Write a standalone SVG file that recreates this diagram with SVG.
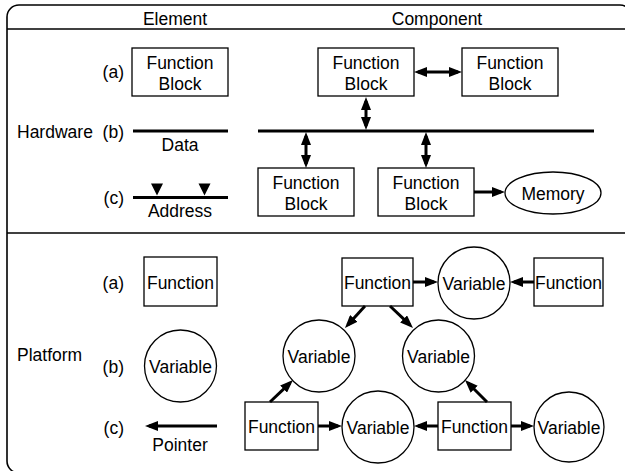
<svg xmlns="http://www.w3.org/2000/svg" width="625" height="471" viewBox="0 0 625 471">
  <style>
    text { font-family: "Liberation Sans", Arial, sans-serif; font-size: 17.5px; fill: #000; }
    .c { text-anchor: middle; }
    .r { text-anchor: end; }
    .node { fill: #fff; stroke: #000; stroke-width: 1.3; }
    .frame { fill: none; stroke: #000; stroke-width: 1.6; }
    .bus { stroke: #000; stroke-width: 3; fill: none; }
    .conn { stroke: #000; stroke-width: 3; fill: none; }
    .arr { marker-end: url(#ah); }
    .dbl { marker-start: url(#ah); marker-end: url(#ah); }
  </style>
  <defs>
    <marker id="ah" viewBox="0 0 13 10" refX="9" refY="5" markerWidth="13" markerHeight="10" markerUnits="userSpaceOnUse" orient="auto-start-reverse">
      <path d="M0,0 L13,5 L0,10 z" fill="#000"/>
    </marker>
    <path id="tick" d="M-6,0 L6,0 L0,12 z" fill="#000"/>
  </defs>

  <rect width="625" height="471" fill="#fff"/>

  <!-- table frame, column header and section divider -->
  <g id="frame">
    <rect class="frame" x="7" y="5" width="625" height="468" rx="12" ry="12"/>
    <line class="frame" x1="7" y1="29" x2="625" y2="29"/>
    <line class="frame" x1="7" y1="233" x2="625" y2="233"/>
    <text class="c" x="175" y="25">Element</text>
    <text class="c" x="437" y="25">Component</text>
  </g>

  <!-- row labels -->
  <g id="labels">
    <text x="17" y="138">Hardware</text>
    <text x="17" y="361">Platform</text>
    <text class="r" x="124" y="78">(a)</text>
    <text class="r" x="124" y="138">(b)</text>
    <text class="r" x="124" y="204">(c)</text>
    <text class="r" x="124" y="289">(a)</text>
    <text class="r" x="124" y="373">(b)</text>
    <text class="r" x="124" y="434">(c)</text>
  </g>

  <!-- hardware elements -->
  <g id="hw-elem-block">
    <rect class="node" x="132" y="48" width="96" height="48"/>
    <text class="c" x="180" y="69">Function</text>
    <text class="c" x="180" y="89.5">Block</text>
  </g>
  <g id="hw-elem-data">
    <line class="bus" x1="133" y1="131" x2="228" y2="131"/>
    <text class="c" x="180" y="151">Data</text>
  </g>
  <g id="hw-elem-address">
    <line class="bus" x1="133" y1="197.5" x2="228" y2="197.5"/>
    <use href="#tick" x="157" y="183.5"/>
    <use href="#tick" x="204.5" y="183.5"/>
    <text class="c" x="180" y="216.5">Address</text>
  </g>

  <!-- hardware component -->
  <g id="hw-fb1">
    <rect class="node" x="318" y="48" width="96" height="48"/>
    <text class="c" x="366" y="69">Function</text>
    <text class="c" x="366" y="89.5">Block</text>
  </g>
  <g id="hw-fb2">
    <rect class="node" x="462" y="48" width="96" height="48"/>
    <text class="c" x="510" y="69">Function</text>
    <text class="c" x="510" y="89.5">Block</text>
  </g>
  <g id="hw-bus">
    <line class="bus" x1="258" y1="131" x2="594" y2="131"/>
  </g>
  <g id="hw-fb3">
    <rect class="node" x="258" y="168" width="96" height="48"/>
    <text class="c" x="306" y="189">Function</text>
    <text class="c" x="306" y="209.5">Block</text>
  </g>
  <g id="hw-fb4">
    <rect class="node" x="378" y="168" width="96" height="48"/>
    <text class="c" x="426" y="189">Function</text>
    <text class="c" x="426" y="209.5">Block</text>
  </g>
  <g id="hw-memory">
    <ellipse class="node" cx="553" cy="193" rx="48" ry="21"/>
    <text class="c" x="553" y="199.5">Memory</text>
  </g>

  <!-- platform elements -->
  <g id="pf-elem-function">
    <rect class="node" x="144" y="257" width="73" height="49"/>
    <text class="c" x="180.5" y="288.5">Function</text>
  </g>
  <g id="pf-elem-variable">
    <circle class="node" cx="180.5" cy="366" r="36"/>
    <text class="c" x="180.5" y="373">Variable</text>
  </g>
  <g id="pf-elem-pointer">
    <text class="c" x="180" y="451">Pointer</text>
  </g>

  <!-- platform component -->
  <g id="pf-func-top">
    <rect class="node" x="342" y="258" width="71" height="48"/>
    <text class="c" x="377.5" y="289">Function</text>
  </g>
  <g id="pf-var-top">
    <circle class="node" cx="474" cy="283" r="36"/>
    <text class="c" x="474" y="290">Variable</text>
  </g>
  <g id="pf-func-topright">
    <rect class="node" x="534" y="258" width="69" height="48"/>
    <text class="c" x="568.5" y="289">Function</text>
  </g>
  <g id="pf-var-left">
    <circle class="node" cx="319" cy="356" r="36"/>
    <text class="c" x="319" y="363">Variable</text>
  </g>
  <g id="pf-var-mid">
    <circle class="node" cx="438.5" cy="356" r="36"/>
    <text class="c" x="438.5" y="363">Variable</text>
  </g>
  <g id="pf-func-botleft">
    <rect class="node" x="245" y="402" width="73" height="48"/>
    <text class="c" x="281.5" y="433">Function</text>
  </g>
  <g id="pf-var-botmid">
    <circle class="node" cx="378" cy="427" r="36"/>
    <text class="c" x="378" y="434">Variable</text>
  </g>
  <g id="pf-func-botright">
    <rect class="node" x="438" y="402" width="73" height="48"/>
    <text class="c" x="474.5" y="433">Function</text>
  </g>
  <g id="pf-var-botright">
    <circle class="node" cx="569" cy="427" r="35"/>
    <text class="c" x="569" y="434">Variable</text>
  </g>

  <!-- connectors -->
  <g id="connectors">
    <line class="conn dbl" x1="418" y1="72" x2="458" y2="72"/>
    <line class="conn dbl" x1="366" y1="101" x2="366" y2="126"/>
    <line class="conn dbl" x1="306" y1="136" x2="306" y2="164"/>
    <line class="conn dbl" x1="426" y1="136" x2="426" y2="164"/>
    <line class="conn arr" x1="474" y1="192" x2="501" y2="192"/>

    <line class="conn arr" x1="217" y1="426" x2="149" y2="426"/>

    <line class="conn arr" x1="413" y1="282" x2="434" y2="282"/>
    <line class="conn arr" x1="534" y1="282" x2="514" y2="282"/>
    <line class="conn arr" x1="365" y1="306" x2="347.7" y2="325"/>
    <line class="conn arr" x1="390" y1="306" x2="410.1" y2="325.2"/>
    <line class="conn arr" x1="270" y1="402" x2="290.1" y2="382.8"/>
    <line class="conn arr" x1="487" y1="402" x2="467.8" y2="382.8"/>
    <line class="conn arr" x1="318" y1="426" x2="338" y2="426"/>
    <line class="conn arr" x1="438" y1="426" x2="418" y2="426"/>
    <line class="conn arr" x1="511" y1="426" x2="530" y2="426"/>
  </g>
</svg>
